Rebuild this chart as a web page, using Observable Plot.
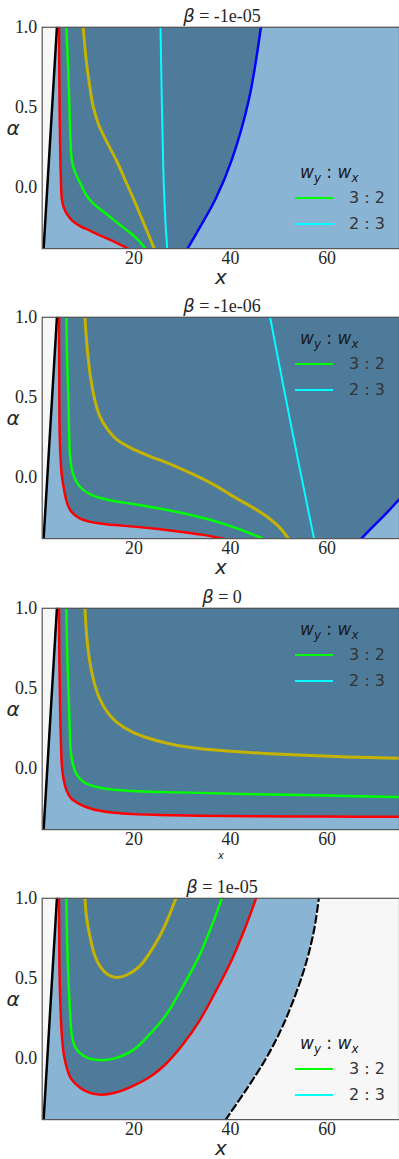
<!DOCTYPE html>
<html>
<head>
<meta charset="utf-8">
<script src="https://cdn.jsdelivr.net/npm/d3@7"></script>
<script src="https://cdn.jsdelivr.net/npm/@observablehq/plot@0.6"></script>
<style>
  html, body { margin: 0; padding: 0; background: #fff; overflow: hidden; }
  #charts { width: 399px; }
  .panel { position: relative; width: 399px; height: 290px; overflow: hidden; }
  .panel.tall { height: 291px; }
  .panel.last { height: 288px; }
  .panel svg { position: absolute; left: 0; top: 0; }
  .title { position: absolute; left: 42px; width: 360px; top: 5px; text-align: center; line-height: 22px;
           font: 18px "Liberation Serif", serif; color: #262626; white-space: nowrap; }
  .title .sym { font: italic 18px "DejaVu Sans", sans-serif; }
  .ylab { position: absolute; left: 4px; top: 116px; width: 18px; text-align: center; line-height: 24px;
          font: italic 20px "DejaVu Sans", sans-serif; color: #262626; }
  .legend { position: absolute; left: 295px; font: 16px "DejaVu Sans", sans-serif; color: #333; }
  .legend .head { height: 25px; line-height: 25px; padding-left: 5px; font-size: 17px; color: #1a1a1a; white-space: nowrap; }
  .legend .head sub { font-size: 70%; line-height: 0; vertical-align: -0.3em; }
  .legend .row { height: 26px; display: flex; align-items: center; white-space: pre; }
  .legend .swatch { width: 38px; height: 0; border-top: 2px solid; margin-right: 16px; }
</style>
</head>
<body>
<div id="charts"></div>
<script>
// Axis ticks and labels
const xDomain = [1, 75];
const alphaDomain = [-0.385, 1.0];
const xTicks = [20, 40, 60];
const alphaTicks = [0.0, 0.5, 1.0];
const betaLabels = ["-1e-05", "-1e-06", "0", "1e-05"];
const ratioLabels = ["3 : 2", "2 : 3"];
const xLabel = "x";
const alphaLabel = "α";

// Left boundary of the admissible region, [x, alpha]
const leftEdge = [[1.3, -0.385], [4.05, 1.0]];

// beta = -1e-05
const red1 = [[4.5,1],[4.55,0.7],[4.62,0.45],[4.72,0.25],[4.85,0.08],[5.08,-0.075],[5.5,-0.13],[6.1,-0.168],[7.2,-0.21],[8.84,-0.244],[10.9,-0.273],[12.95,-0.302],[15.8,-0.34],[18.8,-0.385]];
const green1 = [[6.0,1],[6.3,0.8],[6.64,0.5],[6.85,0.3],[7.13,0.17],[7.6,0.11],[8.16,0.07],[9.2,0.005],[10.2,-0.054],[11.5,-0.1],[12.95,-0.137],[14.7,-0.178],[16.4,-0.219],[18.1,-0.26],[19.8,-0.3],[21.2,-0.342],[22.4,-0.385]];
const olive1 = [[9.5,1],[10.1,0.8],[10.8,0.64],[11.6,0.5],[12.7,0.39],[14.1,0.3],[16.4,0.165],[18.4,0.03],[20.5,-0.115],[22.5,-0.26],[24.2,-0.385]];
const cyan1 = [[25.5,1],[25.8,0.5],[26.1,0.1],[26.5,-0.2],[26.9,-0.385]];
const blue1 = [[31.1,-0.385],[33.5,-0.26],[36.9,-0.075],[40.3,0.174],[43.8,0.547],[46.3,1.0]];

// beta = -1e-06
const red2 = [[4.5,1],[4.52,0.7],[4.58,0.34],[4.75,0.15],[5.07,0.01],[5.6,-0.09],[6.1,-0.157],[7.0,-0.215],[8.84,-0.26],[11,-0.28],[13,-0.29],[16,-0.3],[20,-0.31],[25,-0.325],[30,-0.343],[34,-0.36],[38.6,-0.385]];
const green2 = [[6.0,1],[6.15,0.75],[6.43,0.484],[6.6,0.25],[6.78,0.13],[7.3,0.03],[8.16,-0.033],[9.5,-0.08],[11.57,-0.116],[15,-0.145],[19.8,-0.168],[25,-0.195],[30,-0.225],[33.5,-0.25],[37,-0.278],[40.3,-0.31],[43.5,-0.345],[46.7,-0.385]];
const olive2 = [[9.86,1],[10.2,0.85],[10.9,0.65],[12,0.47],[12.95,0.38],[14.5,0.3],[16.4,0.236],[19.5,0.18],[23.2,0.132],[28,0.075],[33.5,0.0],[37,-0.055],[40.3,-0.116],[44,-0.18],[47.2,-0.24],[50,-0.31],[52,-0.385]];
const cyan2 = [[48.2,1],[52.7,0.3],[57.3,-0.385]];
const blue2 = [[67.1,-0.385],[69.5,-0.31],[72,-0.235],[74.4,-0.157],[75,-0.137]];

// beta = 0
const red3 = [[4.5,1],[4.55,0.7],[4.73,0.35],[4.85,0.2],[5.07,0.02],[5.5,-0.08],[6.1,-0.144],[7,-0.19],[8.84,-0.227],[11,-0.253],[12.95,-0.267],[16,-0.28],[19.8,-0.288],[25,-0.293],[33.5,-0.298],[45,-0.301],[60,-0.303],[75,-0.305]];
const green3 = [[6.0,1],[6.15,0.75],[6.43,0.494],[6.7,0.25],[6.92,0.103],[7.4,0.02],[8.16,-0.041],[9.5,-0.085],[11.57,-0.113],[15,-0.133],[19.8,-0.144],[26,-0.15],[33.5,-0.155],[45,-0.163],[60,-0.172],[75,-0.181]];
const olive3 = [[9.86,1],[10.3,0.8],[10.9,0.659],[12,0.51],[12.95,0.432],[14.5,0.35],[16.4,0.288],[19.5,0.228],[23.2,0.185],[28,0.148],[33.5,0.123],[40,0.105],[47,0.092],[54,0.082],[64,0.07],[75,0.061]];

// beta = 1e-05
const red4 = [[4.5,1],[4.52,0.8],[4.58,0.556],[4.75,0.35],[5.07,0.144],[5.5,0.02],[6.1,-0.062],[7,-0.13],[8.84,-0.185],[10.5,-0.213],[12.3,-0.227],[14,-0.228],[16.4,-0.214],[19.5,-0.178],[23.2,-0.12],[26.5,-0.04],[30,0.08],[33.5,0.23],[36.9,0.415],[40.3,0.617],[43.1,0.82],[45.3,1]];
const green4 = [[6.0,1],[6.15,0.75],[6.43,0.494],[6.8,0.28],[7.13,0.144],[7.8,0.07],[8.84,0.031],[10.5,0.0],[12,-0.01],[14,-0.012],[16,-0.002],[19.8,0.05],[23,0.14],[26.65,0.27],[30,0.44],[33.5,0.638],[36,0.82],[38.2,1]];
const olive4 = [[9.86,1],[10.2,0.88],[10.9,0.761],[11.8,0.65],[12.95,0.576],[14.5,0.525],[16.4,0.504],[18.5,0.52],[21.2,0.576],[23.3,0.66],[25.3,0.761],[27,0.87],[28.7,1]];
const dashed4 = [[39.0,-0.385],[43.2,-0.2],[47.4,0],[50.8,0.2],[53.5,0.4],[55.7,0.6],[57.3,0.8],[58.3,1]];

// Colours
const PAPER = "#f7f7f7";
const LIGHT = "#8ab4d4";
const DARK = "#4f7b9a";
const RED = "#ff0000";
const GREEN = "#00ff00";
const OLIVE = "#c4b300";
const CYAN = "#00ffff";
const BLUE = "#0000ff";
const ratioColors = [GREEN, CYAN];
const CURVE = "catmull-rom";

const panels = [
  {beta: betaLabels[0], red: red1, green: green1, olive: olive1, cyan: cyan1, blue: blue1, legendTop: 172, cls: ""},
  {beta: betaLabels[1], red: red2, green: green2, olive: olive2, cyan: cyan2, blue: blue2, legendTop: 48, cls: " tall"},
  {beta: betaLabels[2], red: red3, green: green3, olive: olive3, legendTop: 48, smallX: true, cls: ""},
  {beta: betaLabels[3], red: red4, green: green4, olive: olive4, dashed: dashed4, closed: true, legendTop: 172, cls: " last"}
];

const px = d => d[0];
const py = d => d[1];

function regionRightOf(points, fill) {
  return Plot.areaX(points, {y: py, x1: px, x2: () => xDomain[1], fill, curve: CURVE, clip: true});
}

function curveLine(points, stroke, strokeWidth, extra = {}) {
  return Plot.line(points, {x: px, y: py, stroke, strokeWidth, curve: CURVE, clip: true, ...extra});
}

function drawPanel(p) {
  const marks = [
    Plot.frame({fill: LIGHT}),
    Plot.areaX(leftEdge, {y: py, x1: () => xDomain[0] - 1, x2: px, fill: PAPER, clip: true})
  ];
  if (p.closed) {
    marks.push(Plot.line(p.red, {x: px, y: py, fill: DARK, stroke: "none", curve: CURVE, clip: true}));
  } else {
    marks.push(regionRightOf(p.red, DARK));
  }
  if (p.blue) marks.push(regionRightOf(p.blue, LIGHT));
  if (p.dashed) marks.push(regionRightOf(p.dashed, PAPER));

  marks.push(curveLine(p.red, RED, 2.5));
  marks.push(curveLine(p.green, GREEN, 2.5));
  marks.push(curveLine(p.olive, OLIVE, 3));
  if (p.cyan) marks.push(curveLine(p.cyan, CYAN, 2));
  if (p.blue) marks.push(curveLine(p.blue, BLUE, 2.5));
  if (p.dashed) marks.push(curveLine(p.dashed, "#000", 2.2, {strokeDasharray: "7,4"}));
  marks.push(Plot.line(leftEdge, {x: px, y: py, stroke: "#000", strokeWidth: 2.5, clip: true}));

  marks.push(Plot.frame({stroke: "#555", strokeWidth: 1.2}));
  marks.push(Plot.axisX({ticks: xTicks, tickSize: 0, tickPadding: 3, label: null}));
  marks.push(Plot.axisY({ticks: alphaTicks, tickSize: 0, tickPadding: 5, tickFormat: d3.format(".1f"), label: null}));

  // x axis title, centred under the plotting frame
  marks.push(Plot.text([xLabel], {
    frameAnchor: "bottom",
    lineAnchor: "middle",
    dy: p.smallX ? 26 : 29,
    text: d => d,
    fontFamily: "'DejaVu Sans', sans-serif",
    fontStyle: "italic",
    fontSize: p.smallX ? 10 : 20,
    fill: "#262626"
  }));

  return Plot.plot({
    width: 402,
    height: 290,
    marginLeft: 42,
    marginRight: 0,
    marginTop: 27,
    marginBottom: 40,
    x: {domain: xDomain},
    y: {domain: alphaDomain},
    style: {background: "none", fontFamily: "'Liberation Serif', serif", fontSize: "18px", color: "#262626", overflow: "visible"},
    marks
  });
}

const root = d3.select("#charts");
panels.forEach(p => {
  const div = root.append("div").attr("class", "panel" + p.cls);
  div.node().appendChild(drawPanel(p));

  const title = div.append("div").attr("class", "title");
  title.append("span").attr("class", "sym").text("β");
  title.append("span").text(" = " + p.beta);

  div.append("div").attr("class", "ylab").text(alphaLabel);

  const legend = div.append("div").attr("class", "legend").style("top", (p.legendTop - 12.5) + "px");
  legend.append("div").attr("class", "head")
    .html("<i>w</i><sub><i>y</i></sub> : <i>w</i><sub><i>x</i></sub>");
  ratioLabels.forEach((label, i) => {
    const row = legend.append("div").attr("class", "row");
    row.append("span").attr("class", "swatch").style("border-color", ratioColors[i]);
    row.append("span").text(label);
  });
});
</script>
</body>
</html>
